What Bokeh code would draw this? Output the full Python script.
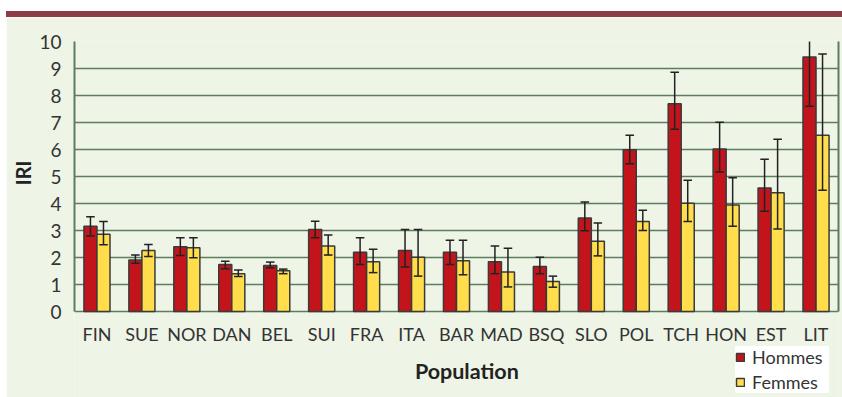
from bokeh.plotting import figure
from bokeh.models import (ColumnDataSource, FactorRange, Range1d, Legend, LegendItem,
                          Label, Div, Title, LinearAxis)
from bokeh.layouts import column
from bokeh.core.properties import value
from bokeh.transform import dodge
from bokeh.embed import file_html
from bokeh.resources import INLINE

# Populations and IRI values (bars with lower/upper limits of the error bars)
populations = ["FIN", "SUE", "NOR", "DAN", "BEL", "SUI", "FRA", "ITA", "BAR",
               "MAD", "BSQ", "SLO", "POL", "TCH", "HON", "EST", "LIT"]
hommes = [3.16, 1.91, 2.40, 1.74, 1.70, 3.04, 2.19, 2.26, 2.19, 1.84, 1.67,
          3.46, 5.99, 7.69, 6.02, 4.57, 9.43]
hommes_bas = [2.80, 1.79, 2.07, 1.58, 1.62, 2.73, 1.74, 1.65, 1.74, 1.40, 1.40,
              2.99, 5.47, 6.75, 5.17, 3.71, 7.60]
hommes_haut = [3.51, 2.09, 2.73, 1.86, 1.83, 3.34, 2.73, 3.04, 2.64, 2.43, 2.01,
               4.06, 6.53, 8.86, 7.01, 5.64, 11.26]
femmes = [2.86, 2.26, 2.36, 1.40, 1.51, 2.43, 1.84, 2.01, 1.88, 1.46, 1.11,
          2.60, 3.33, 4.01, 3.94, 4.40, 6.53]
femmes_bas = [2.47, 2.04, 1.99, 1.30, 1.40, 2.09, 1.44, 1.31, 1.36, 0.91, 0.90,
              2.06, 3.00, 3.33, 3.16, 3.06, 4.49]
femmes_haut = [3.33, 2.48, 2.73, 1.54, 1.57, 2.83, 2.31, 3.04, 2.64, 2.34, 1.31,
               3.28, 3.75, 4.86, 4.95, 6.38, 9.54]
y_ticks = list(range(0, 11))

BG = "#EEF4E6"
GRID = "#5E7D5E"
RED = "#C3141C"
YELLOW = "#FFDD4B"
EDGE = "#3A3A3A"
TEXT = "#333333"
FONT = "Lato"

src = ColumnDataSource(dict(pop=populations,
                            hommes=hommes, h_lo=hommes_bas, h_hi=hommes_haut,
                            femmes=femmes, f_lo=femmes_bas, f_hi=femmes_haut))

# the plotting area runs down to the page bottom so that the category labels,
# the "Population" caption and the legend all sit inside it; the value axis
# itself is bounded to 0..10
p = figure(x_range=FactorRange(*populations, range_padding=0),
           y_range=Range1d(-3.185, 10),
           width=836, height=380, output_backend="svg", toolbar_location=None,
           x_axis_location=None,
           min_border_left=65, min_border_right=4, min_border_top=24,
           min_border_bottom=0, margin=(0, 0, 0, 6))
p.background_fill_color = BG
p.border_fill_color = BG
p.outline_line_color = None

bw = 0.29
off = bw / 2
cap = 0.095

r_h = p.vbar(x=dodge("pop", -off, range=p.x_range), top="hommes", width=bw,
             source=src, fill_color=RED, line_color=EDGE, line_width=1.5)
r_f = p.vbar(x=dodge("pop", off, range=p.x_range), top="femmes", width=bw,
             source=src, fill_color=YELLOW, line_color=EDGE, line_width=1.5)

# error bars: stems and caps
for o, lo, hi in ((-off, "h_lo", "h_hi"), (off, "f_lo", "f_hi")):
    xc = dodge("pop", o, range=p.x_range)
    p.segment(x0=xc, y0=lo, x1=xc, y1=hi, source=src, line_color="#222222",
              line_width=1.5)
    for end in (lo, hi):
        p.segment(x0=dodge("pop", o - cap, range=p.x_range), y0=end,
                  x1=dodge("pop", o + cap, range=p.x_range), y1=end,
                  source=src, line_color="#222222", line_width=1.5)

# horizontal grid (the line at 0 doubles as the category axis)
p.xgrid.grid_line_color = None
p.ygrid.ticker = y_ticks
p.ygrid.grid_line_color = GRID
p.ygrid.grid_line_width = 1.5

ya = p.yaxis[0]
ya.ticker = y_ticks
ya.bounds = (0, 10)
ya.axis_line_color = GRID
ya.axis_line_width = 2
ya.major_tick_line_color = None
ya.minor_tick_line_color = None
ya.major_label_text_font = FONT
ya.major_label_text_font_size = "19px"
ya.major_label_text_color = TEXT
ya.major_label_standoff = 7

# right-hand frame line
right = LinearAxis(bounds=(0, 10), ticker=[], axis_line_color=GRID,
                   axis_line_width=2, major_tick_line_color=None,
                   minor_tick_line_color=None, major_label_standoff=0,
                   major_label_text_font_size="0px")
p.add_layout(right, "right")

# value axis caption
p.add_layout(Title(text="IRI", align="right", offset=119, text_font=FONT,
                   text_font_style="bold", text_font_size="20px",
                   text_color="#222222", standoff=4), "left")

# category labels under each group
p.text(x="pop", y=0, text="pop", source=src, y_offset=22,
       text_align="center", text_baseline="alphabetic",
       text_font=value(FONT), text_font_size="18px", text_color=TEXT)

p.add_layout(Label(x=8.73, y=-2.19, text="Population", text_align="center",
                   text_baseline="alphabetic", text_font=FONT,
                   text_font_style="bold", text_font_size="21.5px",
                   text_color="#222222"))

legend = Legend(items=[LegendItem(label="Hommes", renderers=[r_h]),
                       LegendItem(label="Femmes", renderers=[r_f])],
                location=(661, 4), orientation="vertical",
                background_fill_color="white", background_fill_alpha=1,
                border_line_color=None, padding=4, spacing=3,
                glyph_width=10, glyph_height=10, label_height=16,
                label_width=77, label_standoff=7, label_text_font=FONT,
                label_text_font_size="18px", label_text_color=TEXT,
                margin=0)
p.add_layout(legend, "center")

band = Div(text="", width=836, height=6, margin=(11, 0, 0, 6),
           styles={"background-color": "#8E3B47"})

page = column(band, p, spacing=0, margin=0)
open("out.html", "w").write(file_html(page, INLINE))
